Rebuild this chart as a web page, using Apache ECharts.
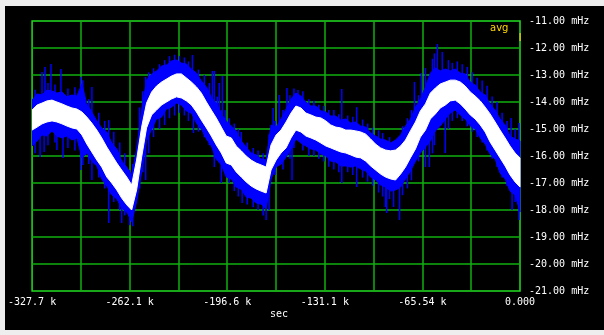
<!DOCTYPE html>
<html><head><meta charset="utf-8">
<script src="https://cdn.jsdelivr.net/npm/echarts@6/dist/echarts.min.js"></script>
<style>html,body{margin:0;padding:0;background:#eeeeee;width:604px;height:335px;overflow:hidden}
#c{position:absolute;left:5px;top:6px;width:599px;height:324px;background:#000}</style>
</head><body><div id="c"></div>
<script>
// time axis (k sec)
const xSec = [-327.7,-324.3,-321.0,-317.7,-314.3,-311.0,-307.6,-304.3,-300.9,-297.6,
-294.2,-290.9,-287.6,-284.2,-280.9,-277.5,-274.2,-270.8,-267.5,-264.1,
-260.8,-257.5,-254.1,-250.8,-247.4,-244.1,-240.7,-237.4,-234.1,-230.7,
-227.4,-224.0,-220.7,-217.3,-214.0,-210.6,-207.3,-204.0,-200.6,-197.3,
-193.9,-190.6,-187.2,-183.9,-180.6,-177.2,-173.9,-170.5,-167.2,-163.8,
-160.5,-157.1,-153.8,-150.5,-147.1,-143.8,-140.4,-137.1,-133.7,-130.4,
-127.1,-123.7,-120.4,-117.0,-113.7,-110.3,-107.0,-103.6,-100.3,-97.0,
-93.6,-90.3,-86.9,-83.6,-80.2,-76.9,-73.6,-70.2,-66.9,-63.5,
-60.2,-56.8,-53.5,-50.1,-46.8,-43.5,-40.1,-36.8,-33.4,-30.1,
-26.7,-23.4,-20.1,-16.7,-13.4,-10.0,-6.7,-3.3,0.0];

// blue envelope (max / min), mHz
const blueHi = [-13.93,-13.70,-13.74,-13.56,-13.59,-13.67,-13.63,-13.81,-13.74,-13.78,
-13.33,-14.07,-14.37,-14.70,-14.96,-15.11,-15.52,-15.74,-16.19,-16.41,
-16.70,-15.78,-14.30,-13.19,-12.96,-12.85,-12.67,-12.63,-12.48,-12.44,
-12.56,-12.59,-12.78,-12.93,-13.22,-13.44,-13.81,-14.04,-14.44,-14.70,
-14.89,-15.07,-15.44,-15.67,-15.89,-15.96,-16.11,-16.15,-14.85,-14.93,
-14.63,-14.26,-13.89,-13.67,-13.78,-14.00,-14.15,-14.15,-14.33,-14.37,
-14.52,-14.52,-14.67,-14.63,-14.78,-14.74,-14.89,-14.93,-15.15,-15.26,
-15.37,-15.41,-15.52,-15.41,-15.22,-14.89,-14.63,-14.19,-13.89,-13.44,
-12.93,-12.74,-12.85,-12.78,-12.85,-12.78,-12.93,-12.96,-13.26,-13.37,
-13.63,-13.74,-14.07,-14.30,-14.63,-14.85,-15.26,-15.37,-15.44];
const blueLo = [-15.63,-15.44,-15.22,-15.26,-15.07,-15.26,-15.33,-15.26,-15.41,-15.33,
-16.07,-15.89,-16.19,-16.37,-16.85,-17.11,-17.44,-17.59,-17.93,-18.07,
-18.44,-17.70,-16.59,-15.44,-15.00,-14.63,-14.56,-14.26,-14.19,-14.04,
-14.11,-14.33,-14.41,-14.78,-15.00,-15.37,-15.63,-16.11,-16.33,-16.78,
-16.85,-17.15,-17.22,-17.52,-17.56,-17.74,-17.78,-17.96,-16.85,-16.41,
-16.30,-16.04,-15.74,-15.37,-15.52,-15.63,-15.74,-15.78,-15.93,-16.00,
-16.19,-16.22,-16.37,-16.37,-16.41,-16.37,-16.48,-16.56,-16.78,-16.89,
-17.07,-17.15,-17.30,-17.26,-17.15,-16.85,-16.56,-16.19,-15.89,-15.67,
-15.44,-15.07,-14.89,-14.63,-14.41,-14.30,-14.48,-14.63,-14.89,-15.00,
-15.33,-15.56,-15.93,-16.11,-16.63,-16.85,-17.30,-17.44,-18.07];
// white (avg) band, mHz
const whiteHi = [-14.30,-14.11,-14.04,-13.96,-13.93,-14.00,-14.07,-14.15,-14.22,-14.26,
-14.37,-14.56,-14.78,-15.04,-15.33,-15.67,-15.96,-16.26,-16.52,-16.78,
-17.07,-16.15,-14.93,-14.04,-13.63,-13.41,-13.26,-13.15,-13.04,-12.96,
-12.96,-13.11,-13.26,-13.44,-13.67,-14.00,-14.30,-14.59,-14.93,-15.26,
-15.33,-15.63,-15.81,-16.00,-16.15,-16.26,-16.33,-16.41,-15.59,-15.22,
-15.04,-14.74,-14.41,-14.15,-14.22,-14.41,-14.48,-14.56,-14.59,-14.70,
-14.85,-14.93,-14.96,-15.04,-15.04,-15.07,-15.11,-15.19,-15.37,-15.56,
-15.70,-15.78,-15.81,-15.78,-15.63,-15.41,-15.07,-14.74,-14.33,-14.07,
-13.67,-13.48,-13.33,-13.26,-13.19,-13.19,-13.26,-13.41,-13.63,-13.78,
-13.96,-14.19,-14.44,-14.74,-15.04,-15.33,-15.63,-15.89,-16.07];
const whiteLo = [-15.04,-14.93,-14.81,-14.74,-14.70,-14.74,-14.81,-14.89,-14.96,-15.00,
-15.22,-15.56,-15.85,-16.15,-16.41,-16.78,-17.00,-17.26,-17.56,-17.81,
-18.00,-17.26,-16.04,-14.96,-14.48,-14.30,-14.11,-14.00,-13.89,-13.81,
-13.85,-13.96,-14.11,-14.37,-14.67,-14.96,-15.26,-15.59,-15.89,-16.26,
-16.33,-16.59,-16.78,-16.96,-17.11,-17.22,-17.30,-17.37,-16.52,-16.15,
-15.89,-15.70,-15.33,-15.04,-15.11,-15.26,-15.33,-15.41,-15.52,-15.63,
-15.70,-15.78,-15.85,-15.89,-15.96,-16.04,-16.07,-16.19,-16.37,-16.52,
-16.67,-16.78,-16.85,-16.89,-16.67,-16.41,-16.07,-15.74,-15.30,-15.04,
-14.63,-14.44,-14.22,-14.11,-13.96,-13.93,-14.07,-14.26,-14.48,-14.63,
-14.85,-15.11,-15.48,-15.78,-16.07,-16.37,-16.70,-16.96,-17.15];
// isolated noise spikes: [k sec, top mHz, bottom mHz]
const spikes = [[-321.0,-12.89,-14.67],[-319.0,-12.70,-14.67],[-315.0,-12.59,-14.67],[-308.3,-12.78,-14.67],
[-322.3,-14.30,-16.04],[-319.6,-14.30,-15.85],[-306.9,-14.48,-16.07],[-311.0,-14.30,-15.78],
[-294.9,-13.07,-16.52],[-293.6,-13.19,-16.33],[-287.5,-13.44,-16.89],[-276.2,-14.67,-18.48],
[-267.5,-16.15,-18.48],[-262.1,-16.52,-18.56],[-251.4,-13.07,-16.89],[-220.0,-12.26,-13.93],
[-219.3,-13.19,-15.15],[-206.6,-12.85,-14.67],[-205.3,-12.85,-16.41],[-202.0,-13.30,-15.78],
[-199.9,-13.04,-14.67],[-200.6,-14.30,-17.00],[-187.2,-15.11,-17.26],[-186.6,-16.15,-17.74],
[-170.5,-16.52,-18.37],[-165.8,-14.22,-16.15],[-161.8,-13.74,-15.78],[-156.5,-13.48,-15.04],
[-153.1,-15.04,-16.89],[-149.1,-13.56,-15.04],[-119.7,-13.52,-17.00],[-109.7,-14.19,-17.15],
[-89.6,-15.78,-18.11],[-90.3,-15.78,-17.89],[-80.9,-15.78,-18.37],[-84.9,-15.78,-17.89],
[-70.9,-13.26,-15.78],[-66.2,-12.93,-15.78],[-63.5,-12.74,-16.41],[-60.9,-14.30,-16.41],
[-55.5,-11.85,-14.30],[-52.2,-12.15,-14.30],[-50.2,-13.93,-15.89],[-6.0,-14.59,-16.52],
[-5.3,-15.78,-18.00],[-0.7,-14.78,-18.37]];
// short noise fringe along band edges: [k sec, top mHz, bottom mHz]
const fringe = [[-325.7,-13.55,-15.9],[-317.0,-13.3,-15.6],[-312.3,-13.35,-15.5],[-303.6,-13.5,-15.7],
[-298.9,-13.45,-15.8],[-289.6,-13.9,-16.3],[-282.9,-14.4,-16.8],[-278.9,-14.7,-17.2],
[-272.8,-15.1,-17.7],[-268.8,-15.5,-18.0],[-265.5,-15.9,-18.2],[-260.1,-16.3,-18.6],
[-255.5,-14.2,-17.2],[-253.4,-13.6,-16.6],[-249.4,-12.9,-15.9],[-246.1,-12.75,-15.3],
[-242.1,-12.6,-15.0],[-238.7,-12.45,-14.85],[-235.4,-12.3,-14.6],[-232.0,-12.25,-14.5],
[-228.7,-12.3,-14.4],[-225.4,-12.35,-14.5],[-222.7,-12.5,-14.7],[-216.0,-12.8,-15.1],
[-212.0,-13.0,-15.3],[-208.6,-13.3,-15.6],[-203.3,-13.8,-16.1],[-197.9,-14.3,-16.6],
[-195.3,-14.6,-17.0],[-191.9,-14.8,-17.3],[-189.2,-15.0,-17.5],[-183.2,-15.5,-17.8],
[-179.2,-15.7,-17.9],[-175.9,-15.8,-18.0],[-172.5,-15.9,-18.2],[-168.5,-15.2,-18.0],
[-164.5,-14.7,-16.7],[-159.2,-14.3,-16.5],[-154.5,-13.75,-16.1],[-151.8,-13.5,-15.7],
[-145.8,-13.6,-15.8],[-141.8,-13.9,-16.0],[-138.4,-13.95,-16.0],[-135.1,-14.1,-16.1],
[-131.7,-14.15,-16.2],[-128.4,-14.3,-16.4],[-125.0,-14.3,-16.5],[-121.7,-14.45,-16.6],
[-115.7,-14.5,-16.6],[-112.3,-14.55,-16.7],[-105.7,-14.65,-16.8],[-102.3,-14.8,-16.95],
[-99.0,-14.95,-17.1],[-95.0,-15.05,-17.35],[-92.3,-15.15,-17.5],[-87.6,-15.3,-17.6],
[-78.9,-14.9,-17.45],[-75.6,-14.6,-17.2],[-72.9,-14.3,-16.9],[-68.2,-13.75,-16.2],
[-58.8,-12.4,-15.9],[-57.5,-12.2,-15.6],[-48.1,-12.45,-15.0],[-45.5,-12.55,-14.7],
[-42.1,-12.5,-14.6],[-38.8,-12.6,-14.7],[-35.4,-12.7,-14.9],[-32.1,-12.9,-15.1],
[-28.8,-13.1,-15.3],[-25.4,-13.2,-15.5],[-22.1,-13.4,-15.8],[-18.7,-13.8,-16.1],
[-15.4,-14.0,-16.4],[-12.0,-14.4,-16.8],[-8.7,-14.7,-17.1],[-3.3,-15.0,-17.7]];

const xTickLabels = ['-327.7 k','','-262.1 k','','-196.6 k','','-131.1 k','','-65.54 k','','0.000'];
const yTickLabels = ['-21.00 mHz','-20.00 mHz','-19.00 mHz','-18.00 mHz','-17.00 mHz','-16.00 mHz',
  '-15.00 mHz','-14.00 mHz','-13.00 mHz','-12.00 mHz','-11.00 mHz'];

const FONT = 'DejaVu Sans Mono';
const GRIDC = '#10b010';
const chart = echarts.init(document.getElementById('c'), null, {renderer:'canvas'});

function band(hi, lo, color, z){
  return {type:'custom', coordinateSystem:'cartesian2d', clip:true, silent:true, z:z,
    data:[[xSec[0], hi[0]]], encode:{x:0,y:1},
    renderItem:function(params, api){
      const pts=[];
      for(let i=0;i<xSec.length;i++) pts.push(api.coord([xSec[i], hi[i]]));
      for(let i=xSec.length-1;i>=0;i--) pts.push(api.coord([xSec[i], lo[i]]));
      return {type:'polygon', shape:{points:pts}, style:{fill:color, stroke:color, lineWidth:1}};
    }};
}
function sticks(data, w, z){
  return {type:'custom', coordinateSystem:'cartesian2d', clip:true, silent:true, z:z,
    data:data, encode:{x:0, y:[1,2]},
    renderItem:function(params, api){
      const a=api.coord([api.value(0), api.value(1)]);
      const b=api.coord([api.value(0), api.value(2)]);
      return {type:'line', shape:{x1:a[0], y1:a[1], x2:b[0], y2:b[1]}, style:{stroke:'#0000ff', lineWidth:w}};
    }};
}

chart.setOption({
  backgroundColor:'#000',
  animation:false,
  grid:{left:25, top:15, width:490, height:270, show:true, borderColor:'#22dd22', borderWidth:1.5, backgroundColor:'#000'},
  xAxis:{type:'value', min:-327.68, max:0, interval:32.768,
    axisLine:{show:false}, axisTick:{show:false},
    splitLine:{show:true, showMinLine:false, showMaxLine:false, lineStyle:{color:GRIDC, width:1.5}},
    axisLabel:{color:'#fff', fontFamily:FONT, fontSize:10, margin:6, showMinLabel:true, showMaxLabel:true,
      formatter:function(v){const i=Math.round((v+327.68)/32.768); return xTickLabels[i]||'';}}},
  yAxis:{type:'value', position:'right', min:-21, max:-11, interval:1,
    axisLine:{show:false}, axisTick:{show:false},
    splitLine:{show:true, showMinLine:false, showMaxLine:false, lineStyle:{color:GRIDC, width:1.5}},
    axisLabel:{color:'#fff', fontFamily:FONT, fontSize:10, margin:9, showMinLabel:true, showMaxLabel:true,
      formatter:function(v){const i=Math.round(v+21); return yTickLabels[i]||'';}}},
  series:[
    band(blueHi, blueLo, '#0000ff', 2),
    sticks(fringe, 1.5, 3),
    sticks(spikes, 1.5, 3),
    band(whiteHi, whiteLo, '#ffffff', 4)
  ],
  graphic:[
    {type:'text', left:265, top:303, style:{text:'sec', fill:'#fff', font:'10px "DejaVu Sans Mono"'}},
    {type:'text', left:485, top:17, style:{text:'avg', fill:'#ffd800', font:'10px "DejaVu Sans"'}},
    {type:'rect', shape:{x:514.5, y:27, width:1.2, height:8}, style:{fill:'#ffcc00'}, z:10}
  ]
});
</script></body></html>
